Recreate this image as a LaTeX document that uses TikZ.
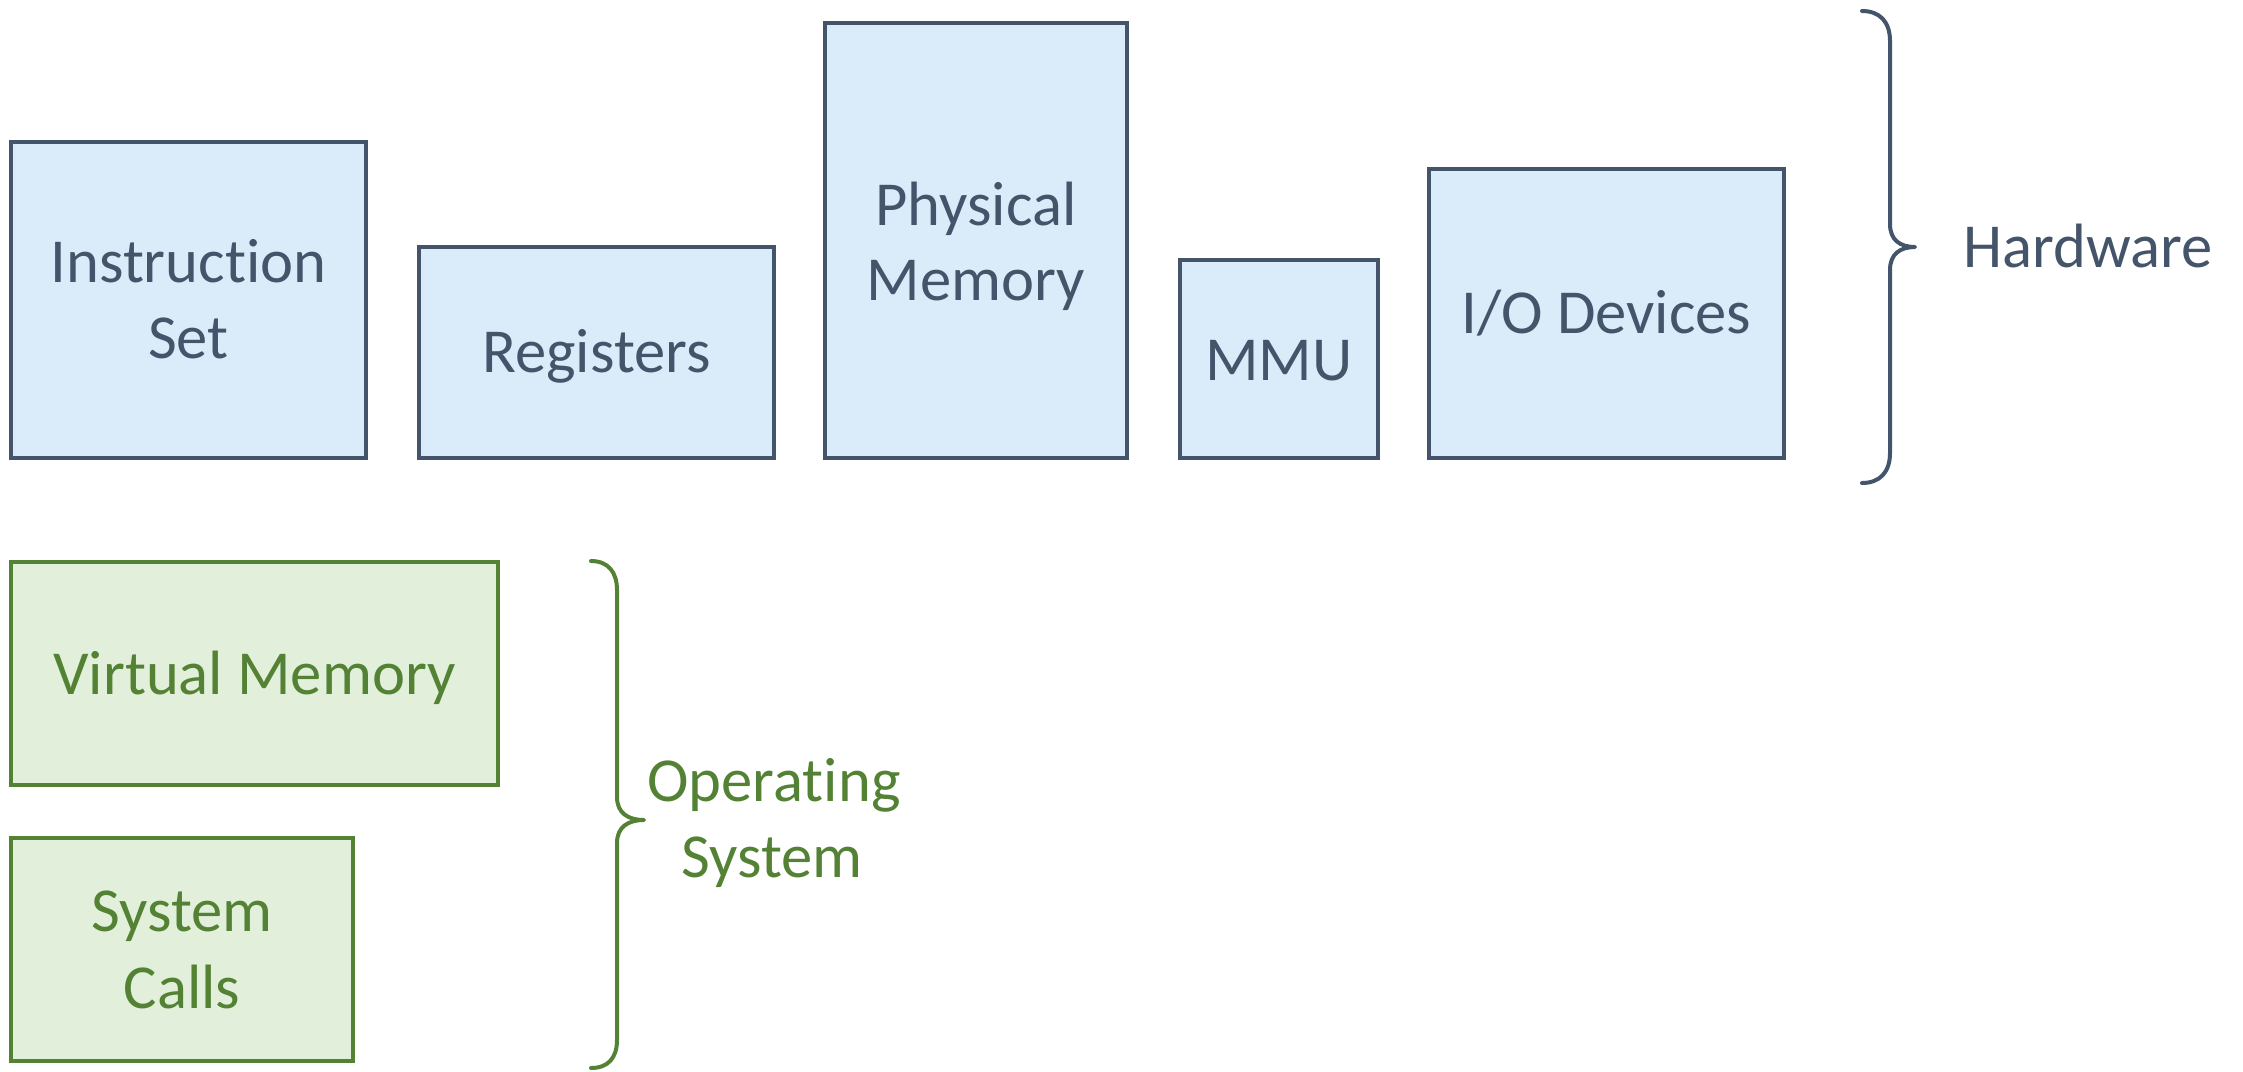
\documentclass[tikz,border=0pt]{standalone}
\usepackage{fontspec}
\setmainfont{Carlito}[Ligatures={NoCommon,NoContextual}]
\usetikzlibrary{fit}
\definecolor{hwline}{HTML}{44546A}
\definecolor{hwfill}{HTML}{DAEBF9}
\definecolor{osline}{HTML}{548235}
\definecolor{osfill}{HTML}{E2EFDA}
\tikzset{
  hwbox/.style={draw=hwline, fill=hwfill, line width=1.6pt, inner sep=0pt},
  osbox/.style={draw=osline, fill=osfill, line width=1.6pt, inner sep=0pt},
  txt/.style={inner sep=0pt, anchor=base, font=\fontsize{31.3}{38}\selectfont},
  hwtxt/.style={txt, text=hwline},
  ostxt/.style={txt, text=osline},
  brace/.style={line width=2pt, line cap=round, line join=round},
}
\begin{document}
\begin{tikzpicture}[x=0.5pt, y=-0.5pt]
\useasboundingbox (0,0) rectangle (2243,1071);

% hardware components
\node[hwbox, fit={(11,142) (366,458)}] (inst) {};
\node[hwbox, fit={(419,247) (774,458)}] (reg) {};
\node[hwbox, fit={(825,23) (1127,458)}] (phys) {};
\node[hwbox, fit={(1180,260) (1378,458)}] (mmu) {};
\node[hwbox, fit={(1429,169) (1784,458)}] (io) {};

\node[hwtxt] (inst1) at (188.5,282) {Instruction};
\node[hwtxt] (inst2) at (188.5,358) {Set};
\node[hwtxt] (reg1) at (596.5,372) {Registers};
\node[hwtxt] (phys1) at (976,225) {Physical};
\node[hwtxt] (phys2) at (976,300) {Memory};
\node[hwtxt] (mmu1) at (1279,380) {MMU};
\node[hwtxt] (io1) at (1606.5,333) {I/O Devices};

% operating system components
\node[osbox, fit={(11,562) (498,785)}] (vm) {};
\node[osbox, fit={(11,838) (353,1061)}] (sc) {};

\node[ostxt] (vm1) at (254.5,694) {Virtual Memory};
\node[ostxt] (sc1) at (182,931) {System};
\node[ostxt] (sc2) at (182,1008) {Calls};

% hardware brace
\coordinate (hwtop) at (1862,11);
\coordinate (hwtip) at (1915,247);
\coordinate (hwbot) at (1862,483);
\draw[brace, hwline] (hwtop) .. controls (1880,11) and (1890,22) .. (1890,41)
  -- (1890,224) .. controls (1890,240) and (1900,247) .. (hwtip)
  .. controls (1900,247) and (1890,254) .. (1890,270)
  -- (1890,453) .. controls (1890,472) and (1880,483) .. (hwbot);
\node[hwtxt, anchor=base west] (hw) at (1963,267) {Hardware};

% operating system brace
\coordinate (ostop) at (591,561);
\coordinate (ostip) at (644,820);
\coordinate (osbot) at (591,1068);
\draw[brace, osline] (ostop) .. controls (608,561) and (617,572) .. (617,590)
  -- (617,797) .. controls (617,813) and (628,820) .. (ostip)
  .. controls (628,820) and (617,827) .. (617,843)
  -- (617,1040) .. controls (617,1058) and (608,1068) .. (osbot);
\node[ostxt] (os1) at (774,801) {Operating};
\node[ostxt] (os2) at (772,877) {System};
\end{tikzpicture}
\end{document}
